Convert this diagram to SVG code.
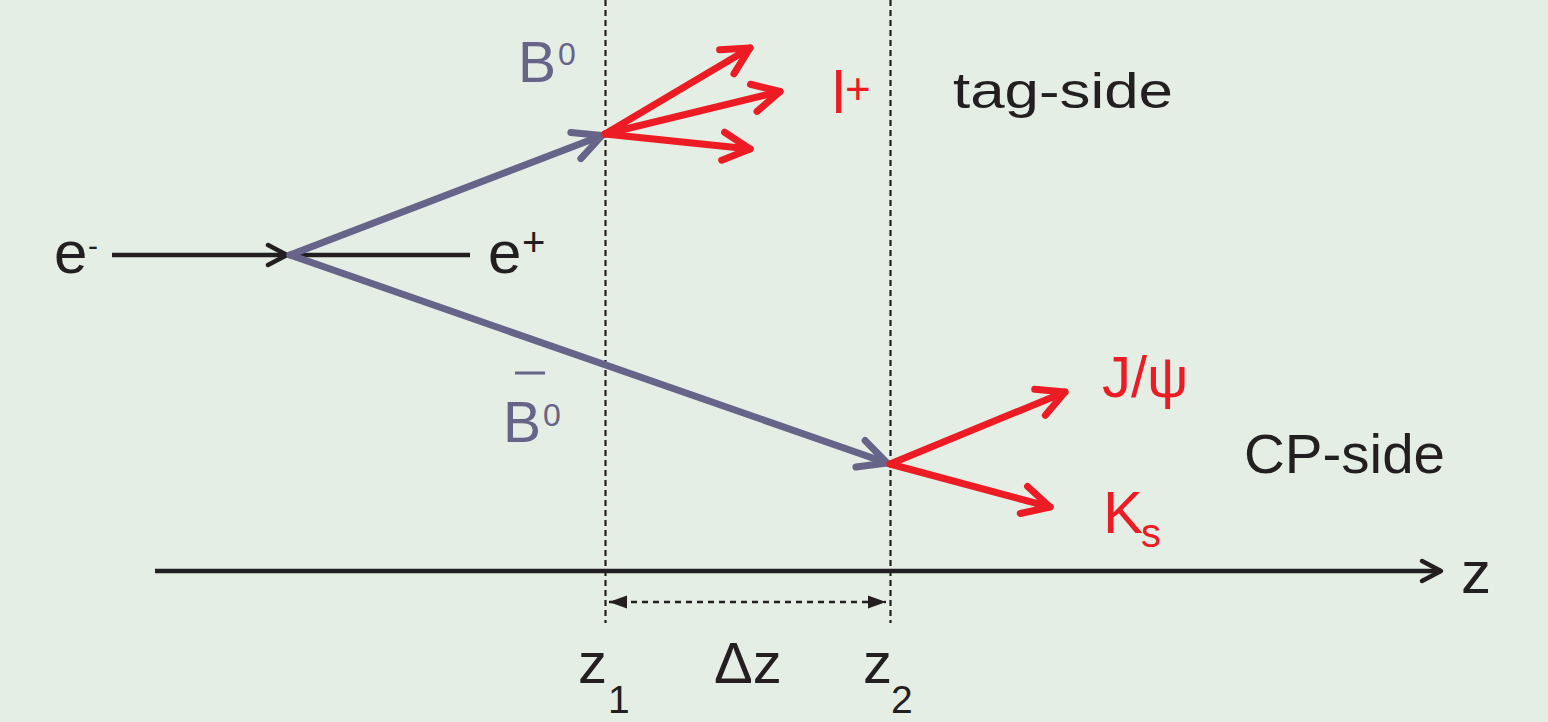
<svg xmlns="http://www.w3.org/2000/svg" width="1548" height="722" viewBox="0 0 1548 722">
<style>
  .bk { fill: #231f20; font-family: "Liberation Sans", Arial, sans-serif; }
  .rd { fill: #ed1c24; font-family: "Liberation Sans", Arial, sans-serif; }
  .pu { fill: #67648a; font-family: "Liberation Sans", Arial, sans-serif; }
  .lp { stroke: #67648a; stroke-width: 7; fill: none; stroke-linecap: round; }
  .lr { stroke: #ed1c24; stroke-width: 7; fill: none; stroke-linecap: round; }
  .lk { stroke: #231f20; stroke-width: 4.5; fill: none; }
  .dash { stroke: #231f20; stroke-width: 2.2; stroke-dasharray: 6 4; fill: none; }
  .dot { stroke: #231f20; stroke-width: 2.5; stroke-dasharray: 6 5; fill: none; }
</style>
<defs>
  <marker id="chevP" markerUnits="userSpaceOnUse" viewBox="-40 -25 50 50" markerWidth="50" markerHeight="50" refX="0" refY="0" orient="auto" overflow="visible">
    <path d="M-28,-14 L0,0 L-28,14" fill="none" stroke="#67648a" stroke-width="7" stroke-linecap="round" stroke-linejoin="round"/>
  </marker>
  <marker id="chevR" markerUnits="userSpaceOnUse" viewBox="-40 -25 50 50" markerWidth="50" markerHeight="50" refX="0" refY="0" orient="auto" overflow="visible">
    <path d="M-27,-14 L0,0 L-27,14" fill="none" stroke="#ed1c24" stroke-width="7" stroke-linecap="round" stroke-linejoin="round"/>
  </marker>
  <marker id="chevK" markerUnits="userSpaceOnUse" viewBox="-30 -20 40 40" markerWidth="40" markerHeight="40" refX="0" refY="0" orient="auto" overflow="visible">
    <path d="M-19,-10 L0,0 L-19,10" fill="none" stroke="#231f20" stroke-width="4.5" stroke-linecap="round" stroke-linejoin="round"/>
  </marker>
  <marker id="triK" markerUnits="userSpaceOnUse" viewBox="-25 -10 30 20" markerWidth="30" markerHeight="20" refX="0" refY="0" orient="auto-start-reverse" overflow="visible">
    <path d="M0,0 L-18,-6.5 L-18,6.5 Z" fill="#231f20"/>
  </marker>
</defs>
<rect x="0" y="0" width="1548" height="722" fill="#e5eee4"/>

<g id="connectors">
  <line class="dash" x1="605.5" y1="0" x2="605.5" y2="623"/>
  <line class="dash" x1="890.5" y1="0" x2="890.5" y2="623"/>
  <line class="lk" x1="112" y1="255" x2="287" y2="255" marker-end="url(#chevK)"/>
  <line class="lk" x1="290" y1="255" x2="470" y2="255"/>
  <line class="lp" x1="290" y1="255" x2="602" y2="135.5" marker-end="url(#chevP)"/>
  <line class="lp" x1="290" y1="255" x2="887" y2="463" marker-end="url(#chevP)"/>
  <line class="lr" x1="605" y1="134" x2="750" y2="48" marker-end="url(#chevR)"/>
  <line class="lr" x1="605" y1="134" x2="780" y2="91.5" marker-end="url(#chevR)"/>
  <line class="lr" x1="605" y1="134" x2="750" y2="149" marker-end="url(#chevR)"/>
  <line class="lr" x1="890" y1="464" x2="1065" y2="392" marker-end="url(#chevR)"/>
  <line class="lr" x1="890" y1="464" x2="1050" y2="507" marker-end="url(#chevR)"/>
  <line class="lk" x1="155" y1="571" x2="1441" y2="571" marker-end="url(#chevK)"/>
  <line class="dot" x1="609" y1="602" x2="886" y2="602" marker-start="url(#triK)" marker-end="url(#triK)"/>
</g>

<g id="e-minus"><text class="bk" x="54" y="273" font-size="60">e<tspan font-size="30" x="88" y="256">-</tspan></text></g>
<g id="e-plus"><text class="bk" x="488" y="273" font-size="60">e<tspan font-size="40" x="522" y="256">+</tspan></text></g>
<g id="B0"><text class="pu" x="518" y="82" font-size="57">B<tspan font-size="32" x="558" y="65">0</tspan></text></g>
<g id="B0bar">
  <line x1="515" y1="373" x2="545" y2="373" stroke="#67648a" stroke-width="3"/>
  <text class="pu" x="503" y="442" font-size="57">B<tspan font-size="32" x="543" y="426">0</tspan></text>
</g>
<g id="lplus"><text class="rd" x="832" y="113" font-size="60">l<tspan font-size="44" x="845" y="104">+</tspan></text></g>
<g id="tag-side"><text class="bk" x="953" y="108" font-size="50" textLength="220" lengthAdjust="spacingAndGlyphs">tag-side</text></g>
<g id="jpsi"><text class="rd" x="1102" y="397" font-size="58">J/ψ</text></g>
<g id="ks"><text class="rd" x="1103" y="533" font-size="60">K<tspan font-size="40" x="1141" y="547">s</tspan></text></g>
<g id="cp-side"><text class="bk" x="1244" y="473" font-size="56" textLength="201" lengthAdjust="spacingAndGlyphs">CP-side</text></g>
<g id="z-axis-label"><text class="bk" x="1461" y="593" font-size="60">z</text></g>
<g id="z1"><text class="bk" x="578" y="683" font-size="58">z<tspan font-size="39" x="608" y="713">1</tspan></text></g>
<g id="dz"><text class="bk" x="714" y="683" font-size="58">Δz</text></g>
<g id="z2"><text class="bk" x="863" y="683" font-size="58">z<tspan font-size="39" x="891" y="713">2</tspan></text></g>
</svg>
